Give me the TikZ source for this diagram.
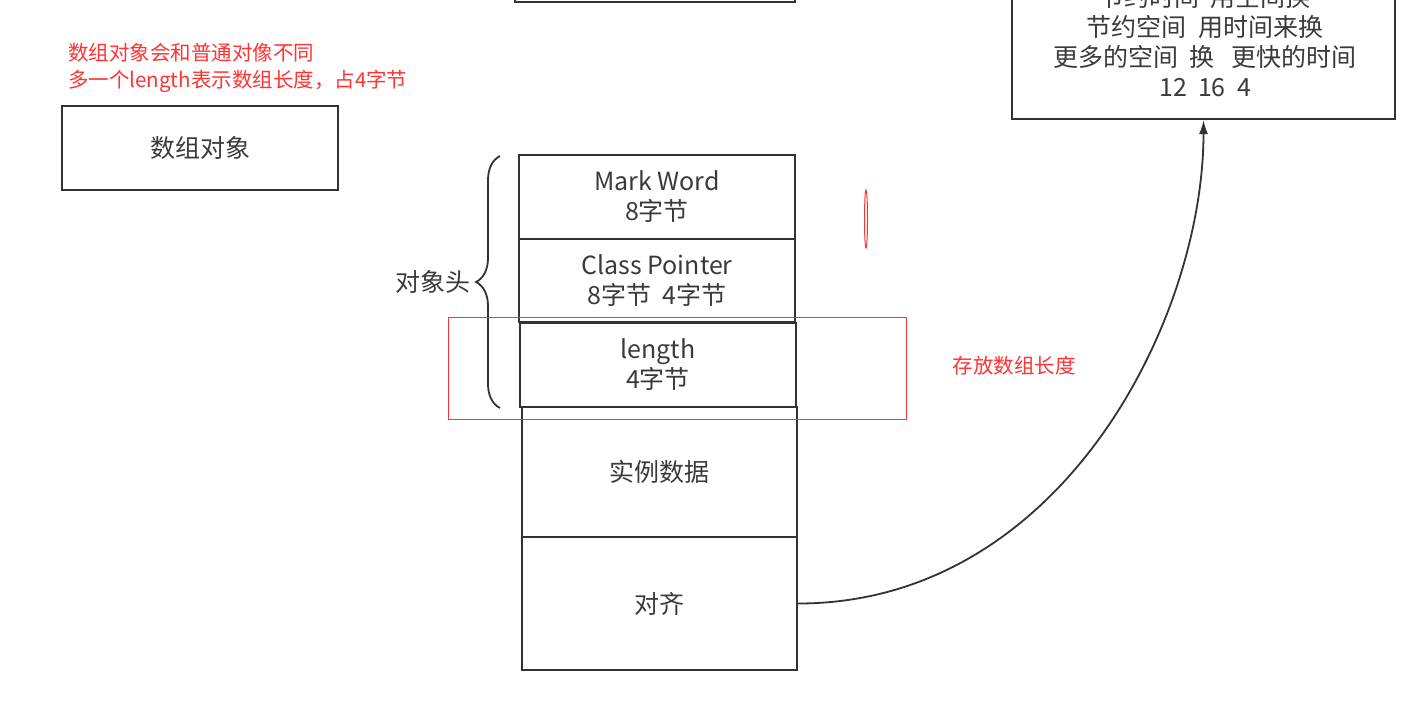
\documentclass[tikz,border=0pt]{standalone}
\usepackage{fontspec}
\setmainfont{Noto Sans CJK SC}
\usetikzlibrary{arrows.meta,decorations.pathreplacing}
\definecolor{ink}{HTML}{333333}
\definecolor{txt}{HTML}{3A3A3A}
\definecolor{redink}{HTML}{FF3333}
\tikzset{
  box/.style={draw=ink, line width=2.2pt, rectangle, inner sep=0pt, text=txt, align=center,
    font=\fontsize{25}{30}\selectfont},
  lbl/.style={text=txt, inner sep=0pt, align=center, font=\fontsize{25}{30}\selectfont},
  rednote/.style={text=redink, inner sep=0pt, align=left, font=\fontsize{20.5}{28}\selectfont},
  conn/.style={draw=ink, line width=1.8pt, -{Latex[length=14pt,width=9pt]}},
}
\begin{document}
\begin{tikzpicture}[x=1pt,y=-1pt]
\useasboundingbox (0,0) rectangle (1412,706);
\clip (0,0) rectangle (1412,706);
% notes
\node[rednote, anchor=west] (n1) at (68,53) {数组对象会和普通对像不同};
\node[rednote, anchor=west] (n2) at (68,81) {多一个length表示数组长度，占4字节};
% left box
\node[box, minimum width=276pt, minimum height=84pt] (arr) at (200,148) {数组对象};
% top cut boxes
\node[box, minimum width=280pt, minimum height=84pt] (topbox) at (655,-40) {};
\node[box, minimum width=383pt, minimum height=180pt, anchor=south] (tr) at (1203.5,120) {};
\node[lbl] (trt) at (1205,41) {节约时间\ \ 用空间换\\节约空间\ \ 用时间来换\\更多的空间\ \ 换\ \ \ 更快的时间\\12\ \ 16\ \ 4};
% stack
\node[box, minimum width=276pt, minimum height=84pt] (mw) at (657,197) {Mark Word\\8字节};
\node[box, minimum width=276pt, minimum height=83pt] (cp) at (657,280.5) {Class Pointer\\8字节\ \ 4字节};
\node[box, minimum width=276pt, minimum height=84pt] (len) at (658,365) {length\\4字节};
\node[box, minimum width=275pt, minimum height=130pt] (data) at (659.5,472) {实例数据};
\node[box, minimum width=275pt, minimum height=133pt] (align) at (659.5,603.5) {对齐};
% brace
\coordinate (bb) at (500,408);
\coordinate (bt) at (500,156);
\draw[draw=ink, line width=1.8pt, decorate, decoration={brace, amplitude=24pt}] (bb) -- (bt);
\node[lbl] (hdr) at (433,282) {对象头};
% red annotations
\draw[draw=redink, line width=0.8pt] (448,317) rectangle (906,419);
\draw[draw=redink, line width=1pt] (866,219) ellipse [x radius=1.5, y radius=29];
\node[rednote] (store) at (1014,366) {存放数组长度};
% connector
\draw[conn] (align.east) .. controls +(263,0) and +(0,200) .. (tr.south);
\end{tikzpicture}
\end{document}
